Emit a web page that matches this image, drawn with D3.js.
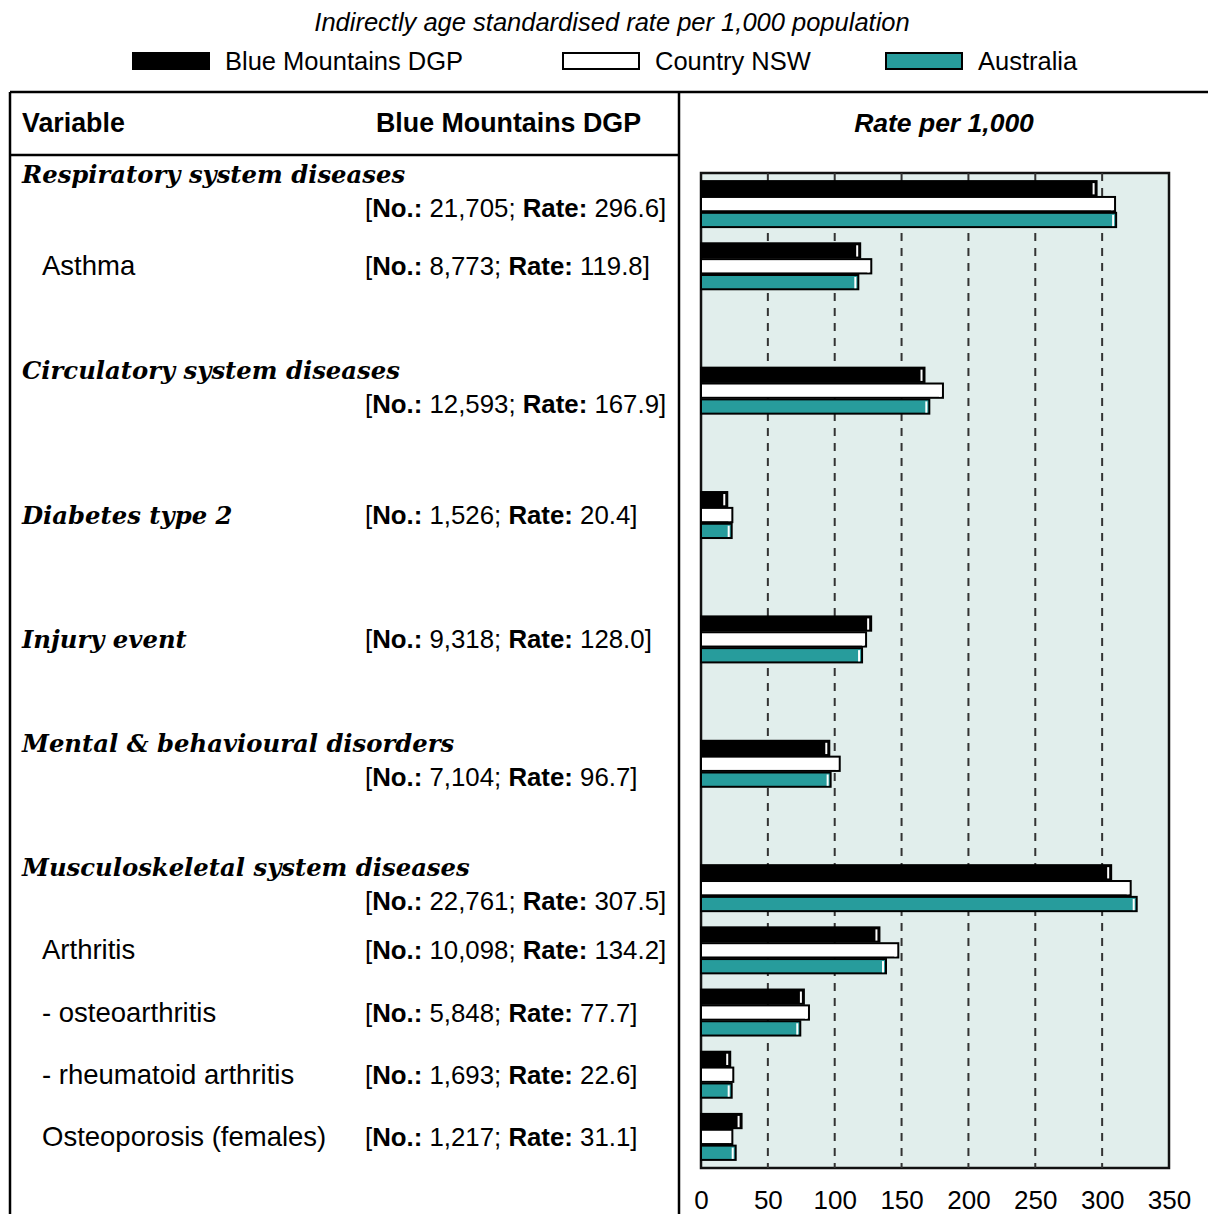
<!DOCTYPE html>
<html>
  <head>
    <meta charset="UTF-8">
    <title>Rate per 1,000 - Blue Mountains DGP</title>
    <style>
      * { margin: 0; padding: 0; overflow: hidden; }
      body { background: #fff; }
    </style>
    <script src="https://d3js.org/d3.v7.min.js"></script>
  </head>
  <body>
    <script type="text/javascript">
      // data
      const SERIES = ["Blue Mountains DGP", "Country NSW", "Australia"];
      const COLOR_SET = ["#000000", "#ffffff", "#279c9c"];
      const categories = [
        "Respiratory system diseases", "Asthma",
        "Circulatory system diseases",
        "Diabetes type 2",
        "Injury event",
        "Mental & behavioural disorders",
        "Musculoskeletal system diseases", "Arthritis", "- osteoarthritis",
        "- rheumatoid arthritis", "Osteoporosis (females)"
      ];
      // true = main heading (bold italic), false = sub item
      const isHeading = [true, false, true, true, true, true, true, false, false, false, false];
      // where a blank row follows
      const gapAfter = [false, true, true, true, true, true, false, false, false, false, false];
      const counts = ["21,705", "8,773", "12,593", "1,526", "9,318", "7,104",
                      "22,761", "10,098", "5,848", "1,693", "1,217"];
      const bmRates = [296.6, 119.8, 167.9, 20.4, 128.0, 96.7, 307.5, 134.2, 77.7, 22.6, 31.1];
      const nswRates = [310.4, 128.1, 181.7, 24.2, 124.2, 104.5, 322.1, 148.3, 81.5, 24.9, 24.2];
      const ausRates = [311.2, 118.4, 171.5, 23.7, 121.2, 97.7, 326.6, 139.1, 75.0, 23.7, 26.7];
      const tickValues = [0, 50, 100, 150, 200, 250, 300, 350];

      const W = 1208, H = 1214;
      const SERIF = "'DejaVu Serif', serif";
      const PLAIN = "'Liberation Sans', Arial, sans-serif";

      const svg = d3.select("body").append("svg")
        .attr("width", W).attr("height", H);

      // title
      svg.append("text")
        .attr("x", 612).attr("y", 31)
        .attr("text-anchor", "middle")
        .attr("font-family", PLAIN).attr("font-style", "italic")
        .attr("font-size", 25.5)
        .text("Indirectly age standardised rate per 1,000 population");

      // legend
      const legendX = [133, 563, 886];
      const lg = svg.selectAll(".legend").data(SERIES).enter()
        .append("g").attr("class", "legend")
        .attr("transform", (d, i) => `translate(${legendX[i]}, 53)`);
      lg.append("rect")
        .attr("width", 76).attr("height", 16)
        .attr("fill", (d, i) => COLOR_SET[i])
        .attr("stroke", "#000").attr("stroke-width", 2);
      lg.append("text")
        .attr("x", 92).attr("y", 17)
        .attr("font-family", PLAIN).attr("font-size", 25.5)
        .text(d => d);

      // table frame
      const frame = svg.append("g").attr("stroke", "#000").attr("stroke-width", 2.5);
      frame.append("line").attr("x1", 10).attr("x2", W).attr("y1", 92).attr("y2", 92);
      frame.append("line").attr("x1", 10).attr("x2", 10).attr("y1", 92).attr("y2", H);
      frame.append("line").attr("x1", 679).attr("x2", 679).attr("y1", 92).attr("y2", H);
      frame.append("line").attr("x1", 10).attr("x2", 679).attr("y1", 155).attr("y2", 155);

      // headers
      svg.append("text").attr("x", 22).attr("y", 132)
        .attr("font-family", PLAIN).attr("font-weight", "bold").attr("font-size", 26.8)
        .text("Variable");
      svg.append("text").attr("x", 641).attr("y", 132).attr("text-anchor", "end")
        .attr("font-family", PLAIN).attr("font-weight", "bold").attr("font-size", 26.8)
        .text("Blue Mountains DGP");
      svg.append("text").attr("x", 944).attr("y", 132).attr("text-anchor", "middle")
        .attr("font-family", PLAIN).attr("font-weight", "bold").attr("font-style", "italic")
        .attr("font-size", 26.5)
        .text("Rate per 1,000");

      // rows (with blank spacer rows)
      const rowKeys = [];
      categories.forEach((c, i) => {
        rowKeys.push(c);
        if (gapAfter[i]) rowKeys.push("gap" + i);
      });

      const PLOT = { left: 701, right: 1169, top: 173, bottom: 1168 };
      const x = d3.scaleLinear().domain([0, 350]).range([PLOT.left, PLOT.right]);
      const y = d3.scaleBand().domain(rowKeys).range([PLOT.top, PLOT.bottom]);
      const yInner = d3.scaleBand().domain(SERIES)
        .range([(y.bandwidth() - 46) / 2, (y.bandwidth() + 46) / 2])
        .paddingInner(0.1);

      // plot background
      svg.append("rect")
        .attr("x", PLOT.left).attr("y", PLOT.top)
        .attr("width", PLOT.right - PLOT.left).attr("height", PLOT.bottom - PLOT.top)
        .attr("fill", "#e1eeec").attr("stroke", "#111").attr("stroke-width", 2.5);

      // gridlines
      svg.append("g").selectAll("line")
        .data(tickValues.filter(v => v > 0 && v < 350))
        .enter().append("line")
        .attr("x1", d => x(d)).attr("x2", d => x(d))
        .attr("y1", PLOT.top).attr("y2", PLOT.bottom)
        .attr("stroke", "#333").attr("stroke-width", 2)
        .attr("stroke-dasharray", "8,7");

      // bars
      const data = categories.map((c, i) => ({
        name: c,
        values: [bmRates[i], nswRates[i], ausRates[i]]
      }));
      const rowG = svg.append("g").selectAll(".row").data(data).enter()
        .append("g").attr("class", "row")
        .attr("transform", d => `translate(0, ${y(d.name)})`);
      const bar = rowG.selectAll(".bar")
        .data(d => d.values.map((v, j) => ({ s: SERIES[j], v: v, j: j })))
        .enter().append("g").attr("class", "bar");
      bar.append("rect")
        .attr("x", x(0)).attr("y", d => yInner(d.s))
        .attr("width", d => x(d.v) - x(0) - 1)
        .attr("height", yInner.bandwidth())
        .attr("fill", d => COLOR_SET[d.j])
        .attr("stroke", "#000").attr("stroke-width", 2);
      // highlight edge
      bar.append("line")
        .attr("x1", d => x(d.v) - 4).attr("x2", d => x(d.v) - 4)
        .attr("y1", d => yInner(d.s) + 2)
        .attr("y2", d => yInner(d.s) + yInner.bandwidth() - 1)
        .attr("stroke", "#fff").attr("stroke-width", 2);

      // x axis labels
      const axis = svg.append("g")
        .attr("transform", `translate(0, ${PLOT.bottom + 23})`)
        .call(d3.axisBottom(x).tickValues(tickValues).tickSize(0).tickPadding(0));
      axis.select(".domain").remove();
      axis.selectAll("text")
        .attr("font-family", PLAIN).attr("font-size", 26).attr("fill", "#000");

      // left labels
      const BRACKET_X = 365;
      const labels = svg.append("g").selectAll(".lab").data(data).enter()
        .append("g").attr("class", "lab");
      labels.each(function(d, i) {
        const g = d3.select(this);
        // first row sits a little higher, close under the header line
        const mid = y(d.name) + y.bandwidth() / 2 - (i === 0 ? 9 : 0);
        const t = g.append("text")
          .attr("x", isHeading[i] ? 22 : 42)
          .attr("font-family", isHeading[i] ? SERIF : PLAIN)
          .attr("font-weight", isHeading[i] ? "bold" : "normal")
          .attr("font-style", isHeading[i] ? "italic" : "normal")
          .attr("font-size", isHeading[i] ? 24.3 : 27.5)
          .text(d.name);
        const w = t.node().getComputedTextLength() + (isHeading[i] ? 22 : 42);
        const twoLine = w > BRACKET_X - 10;
        t.attr("y", (twoLine ? mid - 21 : mid) + 9);
        const b = g.append("text")
          .attr("x", BRACKET_X)
          .attr("y", (twoLine ? mid + 13 : mid) + 9)
          .attr("font-family", PLAIN).attr("font-size", 25.8);
        b.append("tspan").text("[");
        b.append("tspan").attr("font-weight", "bold").text("No.:");
        b.append("tspan").text(` ${counts[i]}; `);
        b.append("tspan").attr("font-weight", "bold").text("Rate:");
        b.append("tspan").text(` ${bmRates[i].toFixed(1)}]`);
      });
    </script>
  </body>
</html>
